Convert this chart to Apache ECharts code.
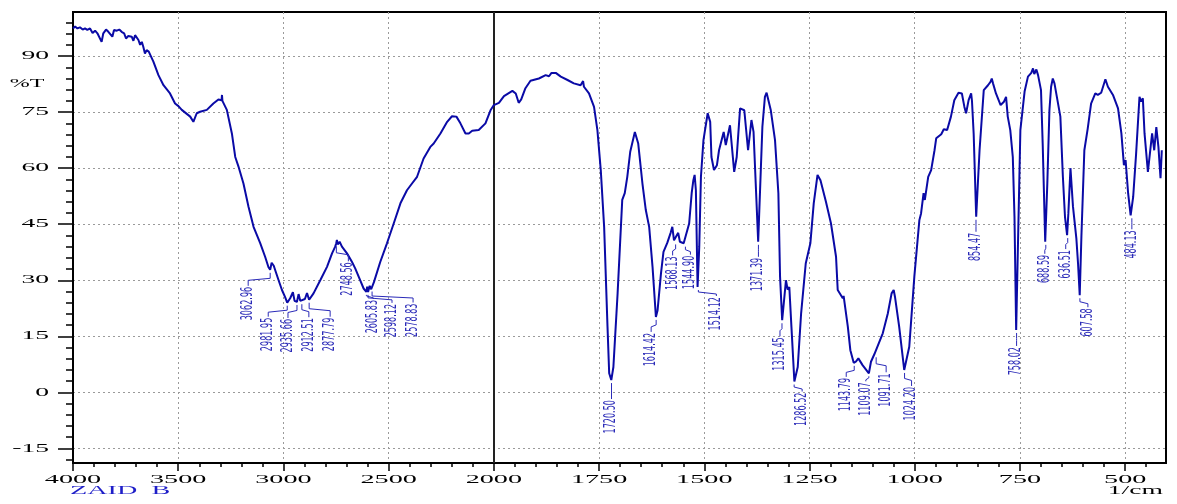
<!DOCTYPE html>
<html><head><meta charset="utf-8">
<script src="https://cdn.jsdelivr.net/npm/echarts@6/dist/echarts.min.js"></script>
<style>html,body{margin:0;padding:0;background:#fff}#c{width:1177px;height:504px}</style>
</head><body><div id="c"></div>
<script>
// ---- data ----
const wavenumbers = [4000,3990,3979,3967,3954,3943,3932,3919,3907,3895,3884,3875,3864,3856,3843,3832,3824,3813,3805,3792,3780,3769,3757,3748,3737,3729,3721,3713,3705,3697,3689,3681,3673,3666,3658,3650,3640,3618,3594,3570,3539,3515,3499,3483,3443,3428,3412,3396,3364,3333,3309,3294,3292,3290,3269,3245,3229,3214,3190,3166,3142,3110,3087,3071,3063,3056,3046,3039,3023,3007,2992,2982,2968,2955,2947,2936,2928,2920,2912,2898,2888,2878,2857,2825,2793,2769,2754,2749,2746,2742,2733,2722,2698,2674,2659,2635,2619,2606,2602,2598,2590,2583,2579,2570,2563,2540,2508,2476,2444,2413,2389,2365,2334,2302,2286,2254,2222,2199,2178,2159,2135,2119,2103,2072,2040,2016,2000,1988,1976,1956,1948,1941,1935,1925,1913,1893,1877,1869,1863,1853,1841,1825,1810,1794,1788,1786,1774,1762,1754,1746,1738,1730,1726,1721,1716,1706,1695,1689,1683,1676,1665,1657,1647,1639,1631,1623,1615,1611,1603,1597,1588,1580,1576,1572,1568,1562,1558,1549,1545,1536,1530,1526,1523,1520,1516,1512,1508,1502,1492,1486,1483,1477,1470,1465,1454,1449,1439,1429,1423,1415,1405,1396,1388,1383,1372,1362,1356,1352,1342,1332,1324,1320,1315,1306,1302,1298,1293,1286,1278,1270,1259,1248,1240,1231,1224,1211,1199,1187,1183,1171,1169,1159,1153,1145,1140,1134,1124,1109,1104,1096,1092,1076,1064,1055,1050,1047,1037,1025,1013,1001,989,985,979,976,968,961,953,949,937,931,923,914,906,896,888,882,878,872,866,864,860,854,846,836,826,820,817,814,807,796,788,783,779,773,767,763,759,755,749,739,731,723,719,716,711,707,700,696,690,685,680,676,672,668,664,654,648,643,638,635,630,624,616,612,608,604,597,589,581,577,571,565,557,553,547,541,529,517,509,503,499,493,487,481,474,466,462,458,454,446,436,431,426,421,416,413];
const transmittance = [97.4,97.9,97.4,97.7,97.1,97.4,97.0,97.4,96.2,96.8,96.1,96.5,93.8,96.1,97.1,96.5,97.0,95.2,97.0,96.8,97.1,96.5,96.1,94.7,95.4,95.9,95.2,94.1,95.6,95.2,94.3,93.0,93.8,92.5,90.7,91.6,91.2,88.5,84.9,82.2,80.0,77.3,76.6,75.6,73.8,72.4,74.7,75.1,75.6,77.3,78.4,78.2,79.6,78.0,75.6,69.3,63.0,60.5,55.9,49.7,44.3,39.9,36.3,33.5,32.8,34.7,33.9,32.7,30.0,27.4,25.5,24.0,25.2,26.8,24.5,24.2,26.3,24.5,24.4,25.0,26.6,24.8,26.5,30.0,33.6,37.2,39.0,39.9,40.8,39.6,40.3,39.0,37.2,34.9,33.2,30.0,27.8,26.9,28.3,26.9,28.5,27.6,28.0,29.5,30.0,34.9,39.9,45.2,50.6,54.1,55.9,57.7,62.6,65.7,66.6,69.3,72.4,73.9,73.8,72.0,69.3,69.3,70.0,70.2,72.0,75.5,76.9,77.5,79.3,80.7,80.0,77.5,78.4,81.4,83.4,84.0,84.9,84.6,85.5,85.5,84.5,83.6,82.7,82.2,83.3,81.8,80.0,76.4,70.2,59.5,44.3,17.6,5.1,3.3,6.8,26.5,51.5,53.3,57.7,64.4,69.7,66.6,55.9,48.8,44.3,33.6,20.2,22.0,31.8,37.6,40.0,42.7,44.3,40.7,40.4,42.7,40.3,39.9,39.8,45.2,53.3,56.8,58.2,54.1,28.2,39.0,57.7,67.5,74.7,72.4,63.0,59.5,60.8,64.8,69.7,66.2,71.5,59.0,63.0,76.0,75.5,64.8,72.9,69.7,40.3,71.1,79.1,80.2,75.5,67.5,53.3,30.9,19.3,30.0,27.5,28.2,17.6,2.9,6.8,21.1,34.5,39.9,50.6,58.2,56.8,51.0,45.2,36.3,27.4,25.2,25.8,17.6,11.3,7.9,8.2,9.1,7.3,5.1,8.2,10.2,9.8,15.8,21.1,26.5,27.4,25.6,17.6,6.0,12.2,30.9,46.1,47.9,53.3,51.5,57.7,59.5,64.8,68.0,69.1,70.4,70.2,73.8,78.2,80.2,80.0,76.4,74.7,78.2,80.0,78.0,69.3,47.0,64.8,80.9,82.2,83.1,84.0,82.7,80.0,76.9,77.8,79.1,73.8,70.2,63.0,47.0,16.7,38.1,70.2,80.5,84.5,85.5,86.7,85.2,86.4,84.9,80.9,66.6,40.3,55.9,75.5,81.8,84.0,82.7,83.1,73.8,57.7,47.0,42.1,47.9,60.0,49.7,41.2,34.5,26.0,41.7,64.8,70.6,77.3,76.9,80.0,79.6,80.2,79.8,83.8,81.8,79.6,76.0,69.3,60.8,62.2,53.3,47.4,52.3,63.9,79.1,77.8,78.7,69.3,59.0,69.3,64.8,71.0,65.7,57.3,64.8];

const peakLabels = ['3062.96','2981.95','2935.66','2912.51','2877.79','2748.56','2605.83','2598.12','2578.83','1720.50','1614.42','1568.13','1544.90','1514.12','1371.39','1315.45','1286.52','1143.79','1109.07','1091.71','1024.20','854.47','758.02','688.59','636.51','607.58','484.13'];
const peakWavenumbers = [3062.96,2981.95,2935.66,2912.51,2877.79,2748.56,2605.83,2598.12,2578.83,1720.50,1614.42,1568.13,1544.90,1514.12,1371.39,1315.45,1286.52,1143.79,1109.07,1091.71,1024.20,854.47,758.02,688.59,636.51,607.58,484.13];
const peakTransmittance = [32.8,24.0,24.2,24.4,24.8,39.9,26.9,26.9,27.8,3.3,20.2,40.4,39.8,28.2,40.3,19.3,2.9,7.9,5.1,10.2,6.0,47.0,16.7,40.3,42.1,26.0,47.4];

const xTickLabels = [4000,3500,3000,2500,2000,1750,1500,1250,1000,750,500];
const yTickLabels = [-15,0,15,30,45,60,75,90];

// ---- layout (pixel shifts of the peak annotations) ----
const peakLabelShift = [[-22,17],[-19,15],[-9,17],[7,17],[21,18],[12,19],[7,8],[24,12],[41,15],[0,20],[-5,16],[-3,15],[5,12],[18,10],[0,16],[-2,17],[8,11],[-8,15],[-3,9],[10,19],[7,17],[0,16],[0,17],[-1,13],[-2,15],[8,13],[0,15]];

// axis scale changes at 2000 1/cm (4000-2000 compressed 2x)
function toT(w){ return w >= 2000 ? (4000 - w) / 2 : 1000 + (2000 - w); }

const Y_MIN = -18.9, Y_MAX = 101.8, X_MAX = 2597;
const serif = '12px "Liberation Serif", "DejaVu Serif", serif';
const narrow = '15px "Liberation Sans Narrow", "DejaVu Sans Condensed", sans-serif';
const curveColor = '#0a0aa6';
const labelColor = '#2a2ab8';
const grid = {lineStyle:{color:'#9a9a9a', width:1, type:[2,3]}};

const majorX = xTickLabels.map(toT);
const minorX = []; for (let t = 0; t <= 2550; t += 50) minorX.push(t);
const minorY = []; for (let v = -18; v <= 99; v += 3) minorY.push(v);

const chart = echarts.init(document.getElementById('c'), null, {renderer:'canvas'});
chart.setOption({
  animation: false,
  backgroundColor: '#fff',
  grid: {left:73, right:11, top:12, bottom:41, show:true, borderColor:'#000', borderWidth:2, backgroundColor:'transparent'},
  xAxis: [
    {type:'value', min:0, max:X_MAX, position:'bottom',
     axisLine:{show:true, onZero:false, lineStyle:{color:'#000', width:2}},
     axisTick:{show:true, customValues:majorX, length:8, lineStyle:{color:'#000', width:1.5}},
     axisLabel:{show:false}, splitLine:{show:true, ...grid}},
    {type:'value', min:0, max:X_MAX, position:'bottom',
     axisLine:{show:false, onZero:false},
     axisTick:{show:true, customValues:minorX, length:4, lineStyle:{color:'#000', width:1.5}},
     axisLabel:{show:false}, splitLine:{show:false}}
  ],
  yAxis: [
    {type:'value', min:Y_MIN, max:Y_MAX, position:'left',
     axisLine:{show:true, onZero:false, lineStyle:{color:'#000', width:2}},
     axisTick:{show:true, customValues:yTickLabels, length:15, lineStyle:{color:'#000', width:1.5}},
     axisLabel:{show:false}, splitLine:{show:true, ...grid}},
    {type:'value', min:Y_MIN, max:Y_MAX, position:'left',
     axisLine:{show:false, onZero:false},
     axisTick:{show:true, customValues:minorY, length:7, lineStyle:{color:'#000', width:1.5}},
     axisLabel:{show:false}, splitLine:{show:false}}
  ],
  graphic: [
    {type:'text', x:27, y:84, scaleX:2.0, style:{text:'%T', font:serif, fill:'#000', align:'center', verticalAlign:'middle'}},
    {type:'text', x:70, y:491, scaleX:2.35, style:{text:'ZAID  B', font:serif, fill:'#1e1ec8', align:'left', verticalAlign:'middle'}},
    {type:'text', x:1163, y:491, scaleX:2.3, style:{text:'1/cm', font:serif, fill:'#000', align:'right', verticalAlign:'middle'}}
  ],
  series: [
    {type:'line', name:'ZAID_B', xAxisIndex:0, yAxisIndex:0, showSymbol:false, symbol:'none',
     data: wavenumbers.map((w,i)=>[toT(w), transmittance[i]]),
     lineStyle:{color:curveColor, width:2}, z:5,
     markLine:{silent:true, symbol:'none', label:{show:false},
       lineStyle:{color:'#222', width:2, type:'solid'},
       data:[{xAxis: toT(2000)}]}},
    {type:'custom', name:'peaks', xAxisIndex:0, yAxisIndex:0, clip:false, z:6,
     data: peakWavenumbers.map((w,i)=>[toT(w), peakTransmittance[i]]),
     renderItem:(params, api)=>{
       const p = api.coord([api.value(0), api.value(1)]);
       const s = peakLabelShift[params.dataIndex];
       const px = p[0], py = p[1], dx = s[0], dy = s[1];
       const mid = py + dy * 0.5;
       return {type:'group', children:[
         {type:'polyline', shape:{points:[[px, py+3],[px, mid],[px+dx, mid+2],[px+dx, py+dy-1]]},
          style:{stroke:labelColor, fill:null, lineWidth:1}},
         {type:'text', x:px+dx, y:py+dy, rotation:Math.PI/2, scaleX:0.6,
          style:{text:peakLabels[params.dataIndex], font:narrow, fill:labelColor, align:'right', verticalAlign:'middle'}}
       ]};
     }},
    {type:'custom', name:'xlabels', xAxisIndex:0, yAxisIndex:0, clip:false,
     data: xTickLabels.map(w=>[toT(w), Y_MIN]),
     renderItem:(params, api)=>{
       const p = api.coord([api.value(0), api.value(1)]);
       return {type:'text', x:p[0], y:p[1]+16.5, scaleX:2.35,
         style:{text:String(xTickLabels[params.dataIndex]), font:serif, fill:'#000', align:'center', verticalAlign:'middle'}};
     }},
    {type:'custom', name:'ylabels', xAxisIndex:0, yAxisIndex:0, clip:false,
     data: yTickLabels.map(v=>[0, v]),
     renderItem:(params, api)=>{
       const p = api.coord([api.value(0), api.value(1)]);
       return {type:'text', x:p[0]-24, y:p[1], scaleX:2.3,
         style:{text:String(yTickLabels[params.dataIndex]), font:serif, fill:'#000', align:'right', verticalAlign:'middle'}};
     }}
  ]
});
</script></body></html>
